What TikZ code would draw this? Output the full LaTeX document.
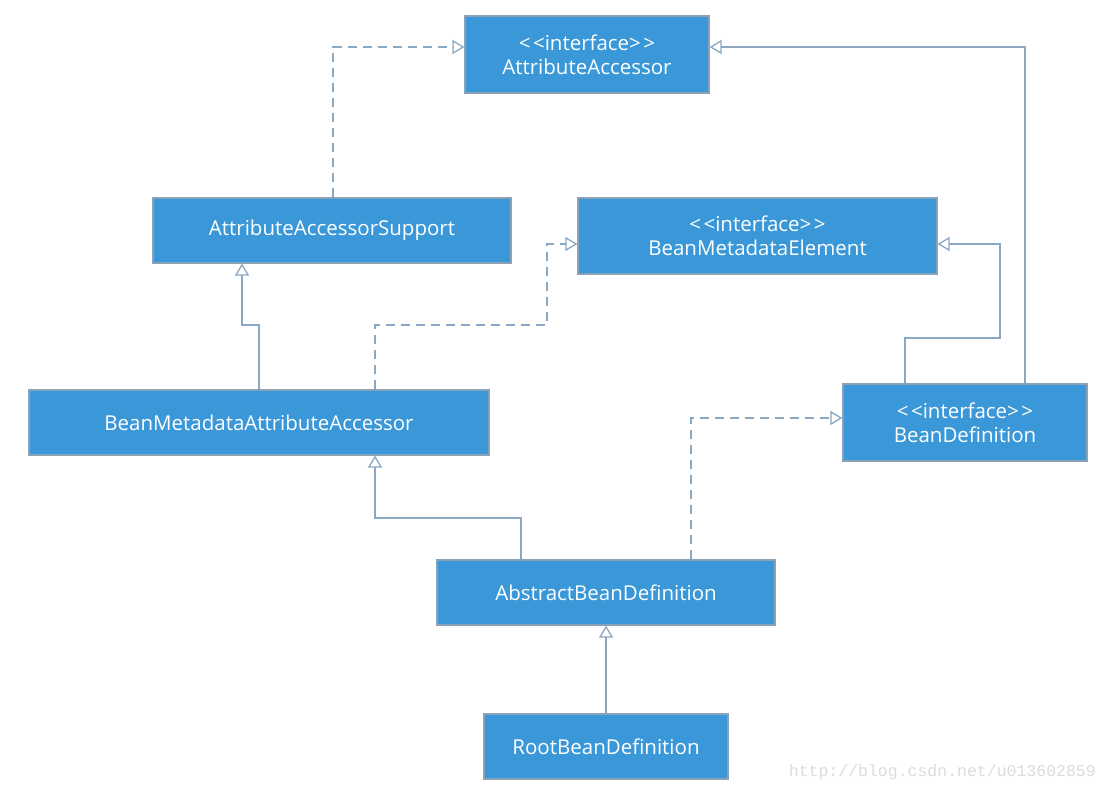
\documentclass[tikz,border=0pt]{standalone}
\usepackage{fontspec}
\setmainfont{Open Sans}
\newfontfamily\wmfont{Liberation Mono}
\usetikzlibrary{arrows.meta}
\definecolor{boxblue}{HTML}{3A98D8}
\definecolor{boxedge}{HTML}{8AA2B8}
\definecolor{linec}{HTML}{8AA8C4}
\definecolor{wmgray}{HTML}{DCDCDC}
\newcommand{\stereo}{{<}\kern2.5pt{<}interface{>}\kern2.5pt{>}}
\tikzset{
  cls/.style={rectangle, fill=boxblue, draw=boxedge, line width=1.2pt, text=white,
    font=\fontsize{20.5}{24}\selectfont, align=center, inner sep=0pt},
  inherit/.style={draw=linec, line width=1.8pt, -{Triangle[open, length=12pt, width=14pt, line width=1.3pt]}},
  realize/.style={inherit, dash pattern=on 9pt off 6pt},
}
\begin{document}
\begin{tikzpicture}[x=1pt,y=-1pt]
\useasboundingbox (0,0) rectangle (1106,792);
\fill[white] (0,0) rectangle (1106,792);
% nodes
\node[cls, minimum width=244pt, minimum height=77pt] (aa) at (587,54.5) {\stereo\\AttributeAccessor};
\node[cls, minimum width=358pt, minimum height=65pt] (aas) at (332,230.5) {AttributeAccessorSupport};
\node[cls, minimum width=359pt, minimum height=76pt] (bme) at (757.5,236) {\stereo\\BeanMetadataElement};
\node[cls, minimum width=460pt, minimum height=65pt] (bmaa) at (259,422.5) {BeanMetadataAttributeAccessor};
\node[cls, minimum width=244pt, minimum height=77pt] (bd) at (965,422.5) {\stereo\\BeanDefinition};
\node[cls, minimum width=338pt, minimum height=65pt] (abd) at (606,592.5) {AbstractBeanDefinition};
\node[cls, minimum width=244pt, minimum height=65pt] (rbd) at (606,746.5) {RootBeanDefinition};
% corner coordinates
\coordinate (c1) at (333,47);
\coordinate (c2) at (1025,47);
\coordinate (c3a) at (905,338);
\coordinate (c3b) at (1000,338);
\coordinate (c3c) at (1000,244);
\coordinate (c4a) at (375,325);
\coordinate (c4b) at (547,325);
\coordinate (c4c) at (547,244);
\coordinate (c5a) at (259,325);
\coordinate (c5b) at (242,325);
\coordinate (c6a) at (521,518);
\coordinate (c6b) at (375,518);
\coordinate (c7a) at (691,418);
% connectors
\draw[realize] (aas.north -| c1) -- (c1) -- (aa.west |- c1);
\draw[inherit] (bd.north -| c2) -- (c2) -- (aa.east |- c2);
\draw[inherit] (bd.north -| c3a) -- (c3a) -- (c3b) -- (c3c) -- (bme.east |- c3c);
\draw[realize] (bmaa.north -| c4a) -- (c4a) -- (c4b) -- (c4c) -- (bme.west |- c4c);
\draw[inherit] (bmaa.north -| c5a) -- (c5a) -- (c5b) -- (aas.south -| c5b);
\draw[inherit] (abd.north -| c6a) -- (c6a) -- (c6b) -- (bmaa.south -| c6b);
\draw[realize] (abd.north -| c7a) -- (c7a) -- (bd.west |- c7a);
\draw[inherit] (rbd.north) -- (abd.south);
% watermark
\node[text=wmgray, font=\wmfont\fontsize{16.5}{18}\selectfont, anchor=east, inner sep=0pt] (wm) at (1096,772) {http://blog.csdn.net/u013602859};
\end{tikzpicture}
\end{document}
